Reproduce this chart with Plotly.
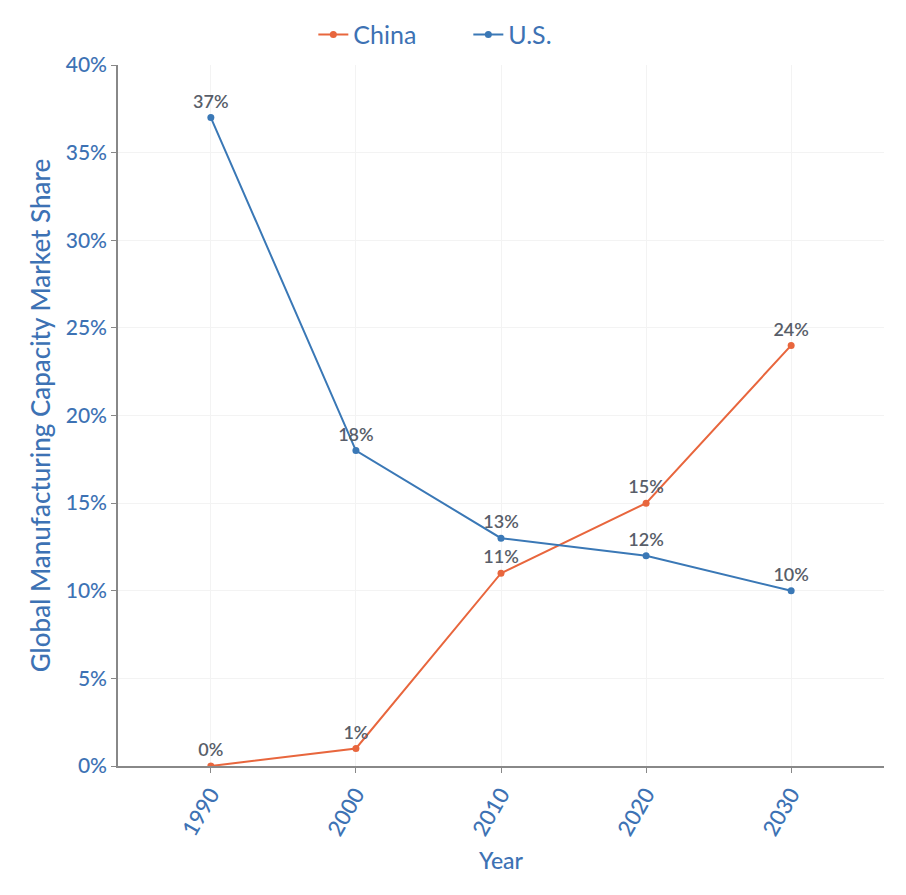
import plotly.graph_objects as go

years = [1990, 2000, 2010, 2020, 2030]
china = [0, 1, 11, 15, 24]
us = [37, 18, 13, 12, 10]
y_ticks = [0, 5, 10, 15, 20, 25, 30, 35, 40]
y_tick_text = [f"{v}%" for v in y_ticks]

FONT = "Lato, Noto Sans, sans-serif"
BLUE_TEXT = "#3d72b4"
CHINA_C = "#e8663d"
US_C = "#3a78b6"
LABEL_C = "#585e69"

fig = go.Figure()
fig.add_trace(go.Scatter(
    x=years, y=china, name="China", mode="lines+markers+text",
    line=dict(color=CHINA_C, width=2), marker=dict(size=7, color=CHINA_C),
    text=[f"{v}%" for v in china], textposition="top center",
    textfont=dict(color=LABEL_C, size=18, family=FONT, weight=600),
))
fig.add_trace(go.Scatter(
    x=years, y=us, name="U.S.", mode="lines+markers+text",
    line=dict(color=US_C, width=2), marker=dict(size=7, color=US_C),
    text=[f"{v}%" for v in us], textposition="top center",
    textfont=dict(color=LABEL_C, size=18, family=FONT, weight=600),
))

fig.update_layout(
    width=906, height=895,
    margin=dict(l=118, r=22, t=65, b=129, autoexpand=False),
    paper_bgcolor="white", plot_bgcolor="white",
    font=dict(family=FONT, color=BLUE_TEXT),
    legend=dict(orientation="h", x=0.255, xanchor="left", y=1.043, yanchor="middle",
                font=dict(size=25, family=FONT), itemwidth=30,
                entrywidth=110, entrywidthmode="pixels"),
    showlegend=True,
)
fig.update_xaxes(
    range=[1983.6, 2036.4], tickvals=years, ticktext=[str(y) for y in years],
    tickangle=-60, tickfont=dict(size=22, color=BLUE_TEXT, weight=500),
    ticks="outside", ticklen=5, tickcolor="#888",
    showline=True, linecolor="#888", linewidth=1.5,
    showgrid=True, gridcolor="#f3f3f3",
    title=dict(text="Year", font=dict(size=23, color=BLUE_TEXT, weight=500), standoff=14),
    zeroline=False,
)
fig.update_yaxes(
    range=[0, 40], tickvals=y_ticks, ticktext=y_tick_text,
    tickfont=dict(size=21, color=BLUE_TEXT, weight=500),
    ticks="outside", ticklen=5, tickcolor="#888",
    showline=True, linecolor="#888", linewidth=1.5,
    showgrid=True, gridcolor="#f3f3f3",
    title=dict(text="Global Manufacturing Capacity Market Share",
               font=dict(size=26, color=BLUE_TEXT, weight=500), standoff=8),
    zeroline=False,
)

fig.write_html("out.html")
